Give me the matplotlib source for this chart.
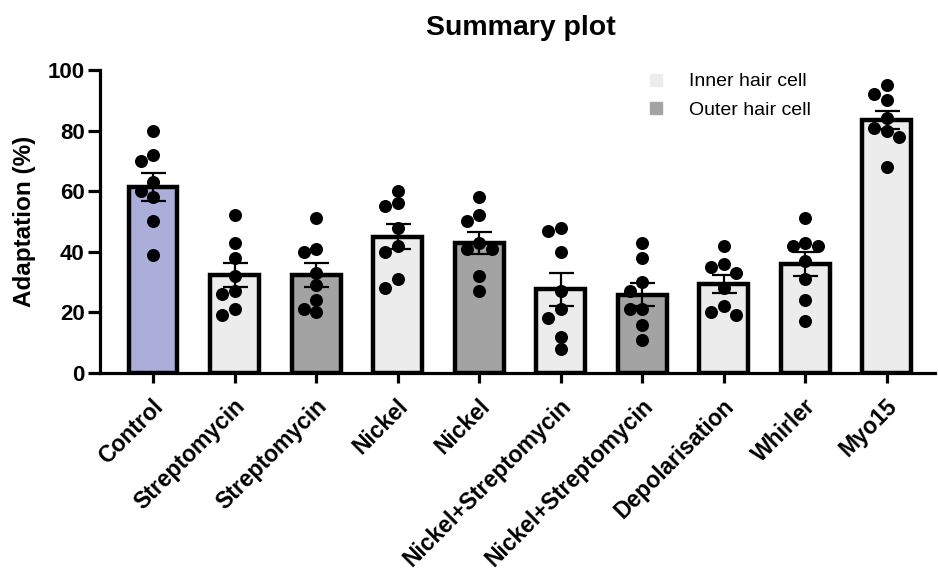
import numpy as np
import matplotlib
matplotlib.use("Agg")
import matplotlib.pyplot as plt
from matplotlib.lines import Line2D
from matplotlib.transforms import ScaledTranslation

plt.rcParams['font.family'] = ['Liberation Sans', 'DejaVu Sans']

# ------------------------------- data ------------------------------- #
groups = ["Control", "Streptomycin", "Streptomycin", "Nickel", "Nickel",
          "Nickel+Streptomycin", "Nickel+Streptomycin", "Depolarisation",
          "Whirler", "Myo15"]
cellType = ["control", "inner", "outer", "inner", "outer",
            "inner", "outer", "inner", "inner", "inner"]
adaptation = [
    [80, 72, 70, 63, 60, 58, 50, 39],   # Control
    [52, 43, 38, 32, 26, 27, 19, 21],   # Streptomycin IHC
    [51, 40, 41, 33, 29, 24, 20, 21],   # Streptomycin OHC
    [60, 56, 55, 48, 40, 42, 31, 28],   # Nickel IHC
    [58, 52, 50, 43, 41, 41, 32, 27],   # Nickel OHC
    [47, 48, 40, 27, 21, 18, 12, 8],    # Nickel+Streptomycin IHC
    [43, 38, 30, 27, 21, 21, 16, 11],   # Nickel+Streptomycin OHC
    [42, 35, 36, 33, 28, 22, 19, 20],   # Depolarisation
    [51, 42, 43, 42, 37, 31, 24, 17],   # Whirler
    [95, 92, 90, 84, 81, 80, 78, 68],   # Myo15
]

colours = {"control": "#abaed9", "inner": "#ececec", "outer": "#a3a3a3"}

# ----------------------------- figure ------------------------------ #
fig = plt.figure(figsize=(9.38, 5.70), dpi=100)
ax = fig.add_axes([100/938, 1 - 373/570, 835/938, 303/570])
ax.set_xlim(-0.65, 9.59)
ax.set_ylim(0, 100)

x = np.arange(len(groups))
means = [np.mean(v) for v in adaptation]
sems = [np.std(v, ddof=1) / np.sqrt(len(v)) for v in adaptation]

ax.bar(x, means, width=0.6, color=[colours[c] for c in cellType],
       edgecolor="black", linewidth=3.2, zorder=1)
ax.errorbar(x, means, yerr=sems, fmt="none", ecolor="black",
            elinewidth=1.6, capsize=9, capthick=1.6, zorder=2)

# simple swarm: spread points sideways when they would overlap
def swarm(xc, values, diam=12.0, step=12.5):
    pix = ax.transData.transform([(xc, v) for v in values])
    placed = []
    offsets = [0, -1, 1, -2, 2]
    out = []
    for (px, py) in pix:
        for k in offsets:
            cx = px + k * step
            if all(np.hypot(cx - qx, py - qy) >= diam for qx, qy in placed):
                break
        placed.append((cx, py))
        out.append(ax.transData.inverted().transform((cx, py)))
    return np.array(out)

for i, vals in enumerate(adaptation):
    pts = swarm(x[i], sorted(vals, reverse=True))
    ax.scatter(pts[:, 0], pts[:, 1], s=88, color="black", zorder=3,
               linewidths=0)

# ------------------------------ axes ------------------------------- #
for side in ["top", "right"]:
    ax.spines[side].set_visible(False)
for side in ["left", "bottom"]:
    ax.spines[side].set_linewidth(2.3)

ax.set_yticks([0, 20, 40, 60, 80, 100])
ax.tick_params(axis="y", length=9, width=2.3, labelsize=16, pad=2)
ax.tick_params(axis="x", length=7, width=2.3, labelsize=16.5, pad=3)
ax.set_xticks(x)
ax.set_xticklabels(groups, rotation=45, ha="right", va="center",
                   rotation_mode="anchor", fontweight="bold")
shift = ScaledTranslation(7/100, -16/100, fig.dpi_scale_trans)
for lab in ax.get_xticklabels():
    lab.set_transform(lab.get_transform() + shift)
for lab in ax.get_yticklabels():
    lab.set_fontweight("bold")

ax.set_ylabel("Adaptation (%)", fontsize=17.5, fontweight="bold", va="center")
ax.yaxis.set_label_coords(-75/835, 0.5)

fig.text(521/938, 1 - 28/570, "Summary plot", ha="center", va="center",
         fontsize=20.5, fontweight="bold")

handles = [
    Line2D([], [], marker="s", linestyle="none", markersize=9,
           color=colours["inner"], label="Inner hair cell"),
    Line2D([], [], marker="s", linestyle="none", markersize=9,
           color=colours["outer"], label="Outer hair cell"),
]
ax.legend(handles=handles, loc="upper left", bbox_to_anchor=(0.642, 1.023),
          frameon=False, fontsize=14, handlelength=1.0, handletextpad=1.2,
          labelspacing=0.56, borderpad=0)

fig.savefig("out.png", dpi=100)
